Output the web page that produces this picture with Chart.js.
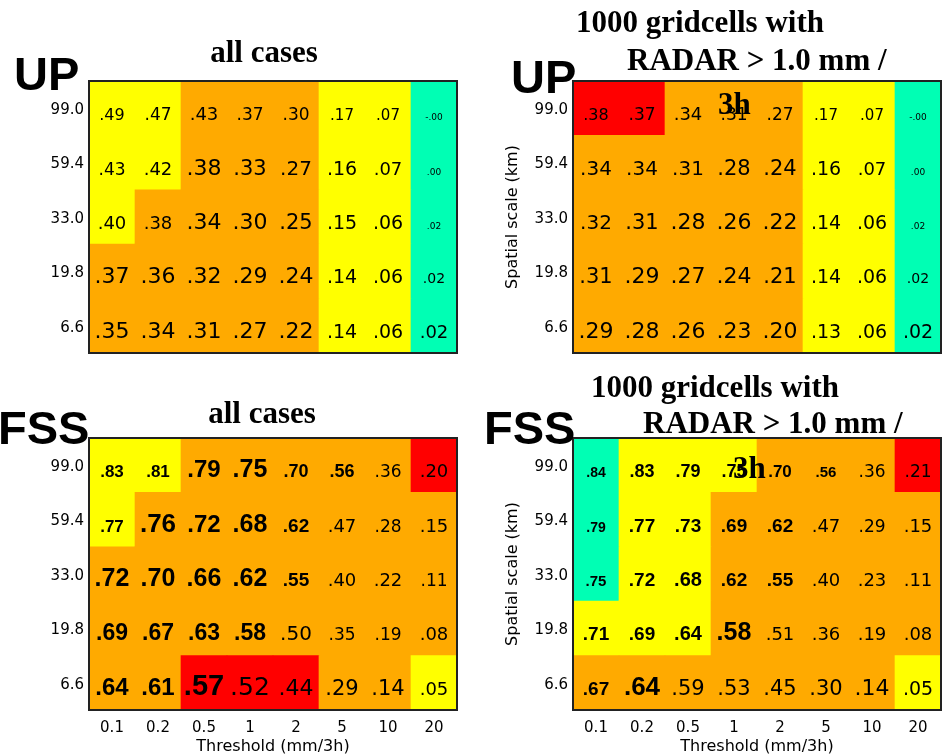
<!DOCTYPE html>
<html>
<head>
<meta charset="utf-8">
<script src="https://cdn.jsdelivr.net/npm/chart.js@4/dist/chart.umd.min.js"></script>
<style>
  html, body { margin: 0; padding: 0; background: #fff; }
  #page { position: relative; width: 942px; height: 754px; overflow: hidden; background: #fff; }
  #page canvas { position: absolute; left: 0; top: 0; }
  .lbl { position: absolute; white-space: nowrap; line-height: 1; color: #000; z-index: 5; }
  .big { font-family: "Liberation Sans", Arial, sans-serif; font-weight: bold; font-size: 47px; }
  .ttl { font-family: "Liberation Serif", "Times New Roman", serif; font-weight: bold; font-size: 31px; }
  .ctr { transform: translateX(-50%); }
</style>
</head>
<body>
<div id="page">
  <canvas id="upAllCanvas" width="942" height="754"></canvas>
  <canvas id="upRadarCanvas" width="942" height="754"></canvas>
  <canvas id="fssAllCanvas" width="942" height="754"></canvas>
  <canvas id="fssRadarCanvas" width="942" height="754"></canvas>

  <div class="lbl big" style="left:14px;top:50px">UP</div>
  <div class="lbl ttl ctr" style="left:264px;top:36px">all cases</div>

  <div class="lbl big" style="left:511px;top:53px">UP</div>
  <div class="lbl ttl" style="left:576px;top:6px">1000 gridcells with</div>
  <div class="lbl ttl" style="left:627px;top:44px">RADAR &gt; 1.0 mm /</div>
  <div class="lbl ttl" style="left:718px;top:88px">3h</div>

  <div class="lbl big" style="left:-2px;top:404px">FSS</div>
  <div class="lbl ttl ctr" style="left:262px;top:397px">all cases</div>

  <div class="lbl big" style="left:484px;top:404px">FSS</div>
  <div class="lbl ttl" style="left:591px;top:371px">1000 gridcells with</div>
  <div class="lbl ttl" style="left:643px;top:407px">RADAR &gt; 1.0 mm /</div>
  <div class="lbl ttl" style="left:733px;top:452px">3h</div>
</div>

<script>
// Thresholds (columns) and spatial scales (rows, listed top to bottom)
const thresholds = ['0.1', '0.2', '0.5', '1', '2', '5', '10', '20'];
const spatialScales = ['99.0', '59.4', '33.0', '19.8', '6.6'];

// UP score, all cases
const upAll = [
  [0.49, 0.47, 0.43, 0.37, 0.30, 0.17, 0.07, -0],
  [0.43, 0.42, 0.38, 0.33, 0.27, 0.16, 0.07, 0.00],
  [0.40, 0.38, 0.34, 0.30, 0.25, 0.15, 0.06, 0.02],
  [0.37, 0.36, 0.32, 0.29, 0.24, 0.14, 0.06, 0.02],
  [0.35, 0.34, 0.31, 0.27, 0.22, 0.14, 0.06, 0.02]
];
// UP score, 1000 gridcells with RADAR > 1.0 mm/3h
const upRadar = [
  [0.38, 0.37, 0.34, 0.31, 0.27, 0.17, 0.07, -0],
  [0.34, 0.34, 0.31, 0.28, 0.24, 0.16, 0.07, 0.00],
  [0.32, 0.31, 0.28, 0.26, 0.22, 0.14, 0.06, 0.02],
  [0.31, 0.29, 0.27, 0.24, 0.21, 0.14, 0.06, 0.02],
  [0.29, 0.28, 0.26, 0.23, 0.20, 0.13, 0.06, 0.02]
];
// FSS, all cases
const fssAll = [
  [0.83, 0.81, 0.79, 0.75, 0.70, 0.56, 0.36, 0.20],
  [0.77, 0.76, 0.72, 0.68, 0.62, 0.47, 0.28, 0.15],
  [0.72, 0.70, 0.66, 0.62, 0.55, 0.40, 0.22, 0.11],
  [0.69, 0.67, 0.63, 0.58, 0.50, 0.35, 0.19, 0.08],
  [0.64, 0.61, 0.57, 0.52, 0.44, 0.29, 0.14, 0.05]
];
// FSS, 1000 gridcells with RADAR > 1.0 mm/3h
const fssRadar = [
  [0.84, 0.83, 0.79, 0.75, 0.70, 0.56, 0.36, 0.21],
  [0.79, 0.77, 0.73, 0.69, 0.62, 0.47, 0.29, 0.15],
  [0.75, 0.72, 0.68, 0.62, 0.55, 0.40, 0.23, 0.11],
  [0.71, 0.69, 0.64, 0.58, 0.51, 0.36, 0.19, 0.08],
  [0.67, 0.64, 0.59, 0.53, 0.45, 0.30, 0.14, 0.05]
];

// Cell categories: Y = yellow, O = orange, R = red, G = green
const upAllClass   = ['YYOOOYYG', 'YYOOOYYG', 'YOOOOYYG', 'OOOOOYYG', 'OOOOOYYG'];
const upRadarClass = ['RROOOYYG', 'OOOOOYYG', 'OOOOOYYG', 'OOOOOYYG', 'OOOOOYYG'];
const fssAllClass  = ['YYOOOOOR', 'YOOOOOOO', 'OOOOOOOO', 'OOOOOOOO', 'OORRROOY'];
const fssRadarClass = ['GYYYOOOR', 'GYYOOOOO', 'GYYOOOOO', 'YYYOOOOO', 'OOOOOOOY'];

// ---- styling ----
const classColor = { Y: '#ffff00', O: '#ffaa00', R: '#ff0000', G: '#00ffb4' };

// Per-cell label font: size in px, n = regular, b = bold
const upAllFont = [
  '16n 17n 18n 17n 17n 15n 15n 9n',
  '17n 18n 22n 21n 20n 19n 18n 9n',
  '18n 18n 22n 22n 21n 19n 19n 9n',
  '22n 22n 22n 22n 22n 19n 19n 14n',
  '22n 22n 22n 22n 22n 19n 19n 18n'
];
const upRadarFont = [
  '16n 17n 18n 17n 17n 15n 15n 9n',
  '20n 20n 20n 21n 21n 19n 18n 9n',
  '20n 21n 22n 22n 22n 19n 19n 9n',
  '21n 22n 22n 22n 21n 19n 19n 14n',
  '22n 22n 22n 22n 22n 19n 19n 19n'
];
const fssAllFont = [
  '17b 17b 24b 25b 18b 18b 17n 18n',
  '17b 26b 24b 25b 19b 18n 17n 18n',
  '25b 25b 25b 25b 19b 18n 18n 17n',
  '23b 23b 23b 23b 20n 17n 17n 18n',
  '24b 24b 29b 25n 22n 21n 21n 18n'
];
const fssRadarFont = [
  '14b 18b 18b 18b 17b 15b 17n 17n',
  '14b 19b 19b 19b 19b 18n 17n 18n',
  '15b 19b 20b 19b 19b 18n 18n 18n',
  '19b 19b 20b 25b 18n 18n 18n 18n',
  '19b 26b 21n 21n 21n 21n 22n 19n'
];

const tickFont = { family: 'DejaVu Sans', size: 15 };
const titleFont = { family: 'DejaVu Sans', size: 16 };

function fmt(v) {
  const neg = v < 0 || Object.is(v, -0);
  return (neg ? '-' : '') + Math.abs(v).toFixed(2).slice(1);
}

function makePanel(canvasId, values, classes, fonts, layout) {
  const nRows = spatialScales.length;
  const rowsUp = spatialScales.slice().reverse(); // bottom to top for the value axis
  const datasets = [];
  for (let k = 0; k < nRows; k++) {
    const r = nRows - 1 - k;
    datasets.push({
      label: spatialScales[r],
      data: thresholds.map(() => 1),
      backgroundColor: classes[r].split('').map(ch => classColor[ch]),
      borderWidth: 0,
      barPercentage: 1,
      categoryPercentage: 1,
      stack: 'cells'
    });
  }

  const cellLabels = {
    id: 'cellLabels',
    afterDatasetsDraw(chart) {
      const ctx = chart.ctx;
      ctx.save();
      ctx.fillStyle = '#000';
      ctx.textAlign = 'center';
      ctx.textBaseline = 'alphabetic';
      chart.data.datasets.forEach((ds, k) => {
        const r = nRows - 1 - k;
        const styles = fonts[r].split(' ');
        chart.getDatasetMeta(k).data.forEach((bar, c) => {
          const st = styles[c];
          const size = parseInt(st, 10);
          const bold = st.endsWith('b');
          ctx.font = bold ? `bold ${size}px "Liberation Sans", Arial, sans-serif`
                          : `${size}px "DejaVu Sans", sans-serif`;
          const yc = (bar.y + bar.base) / 2;
          const h = Math.abs(bar.base - bar.y);
          ctx.fillText(fmt(values[r][c]), bar.x, yc + 0.22 * h);
        });
      });
      ctx.restore();
    }
  };

  const frame = {
    id: 'frame',
    afterDraw(chart) {
      const a = chart.chartArea;
      const ctx = chart.ctx;
      ctx.save();
      ctx.strokeStyle = '#222';
      ctx.lineWidth = 2;
      ctx.strokeRect(a.left, a.top, a.right - a.left, a.bottom - a.top);
      ctx.restore();
    }
  };

  return new Chart(document.getElementById(canvasId), {
    type: 'bar',
    data: { labels: thresholds, datasets },
    options: {
      responsive: false,
      animation: false,
      devicePixelRatio: 1,
      events: [],
      layout: { padding: layout.padding },
      plugins: { legend: { display: false }, tooltip: { enabled: false }, title: { display: false } },
      scales: {
        x: {
          type: 'category',
          stacked: true,
          display: layout.showX,
          grid: { display: false, drawTicks: false },
          border: { display: false },
          ticks: { font: tickFont, color: '#000', padding: 9, maxRotation: 0, autoSkip: false },
          title: { display: layout.showX, text: 'Threshold (mm/3h)', font: titleFont, color: '#000',
                   padding: { top: 0, bottom: -2 } },
          afterFit(scale) { scale.height = layout.showX ? 44 : 0; }
        },
        y: {
          type: 'linear',
          stacked: true,
          min: 0,
          max: nRows,
          grid: { display: false, drawTicks: false },
          border: { display: false },
          afterBuildTicks(axis) {
            axis.ticks = rowsUp.map((_, i) => ({ value: i + 0.5 }));
          },
          ticks: {
            font: tickFont,
            color: '#000',
            padding: 5,
            labelOffset: 2,
            autoSkip: false,
            callback: (value, index) => rowsUp[index]
          },
          title: { display: layout.showYTitle, text: 'Spatial scale (km)', font: titleFont, color: '#000', padding: 0 },
          afterFit(scale) { scale.width = layout.yWidth; }
        }
      }
    },
    plugins: [cellLabels, frame]
  });
}

makePanel('upAllCanvas', upAll, upAllClass, upAllFont, {
  padding: { left: 29, right: 485, top: 81, bottom: 401 },
  showX: false, showYTitle: false, yWidth: 60
});
makePanel('upRadarCanvas', upRadar, upRadarClass, upRadarFont, {
  padding: { left: 503, right: 1, top: 81, bottom: 401 },
  showX: false, showYTitle: true, yWidth: 70
});
makePanel('fssAllCanvas', fssAll, fssAllClass, fssAllFont, {
  padding: { left: 29, right: 485, top: 438, bottom: 0 },
  showX: true, showYTitle: false, yWidth: 60
});
makePanel('fssRadarCanvas', fssRadar, fssRadarClass, fssRadarFont, {
  padding: { left: 503, right: 1, top: 438, bottom: 0 },
  showX: true, showYTitle: true, yWidth: 70
});
</script>
</body>
</html>
